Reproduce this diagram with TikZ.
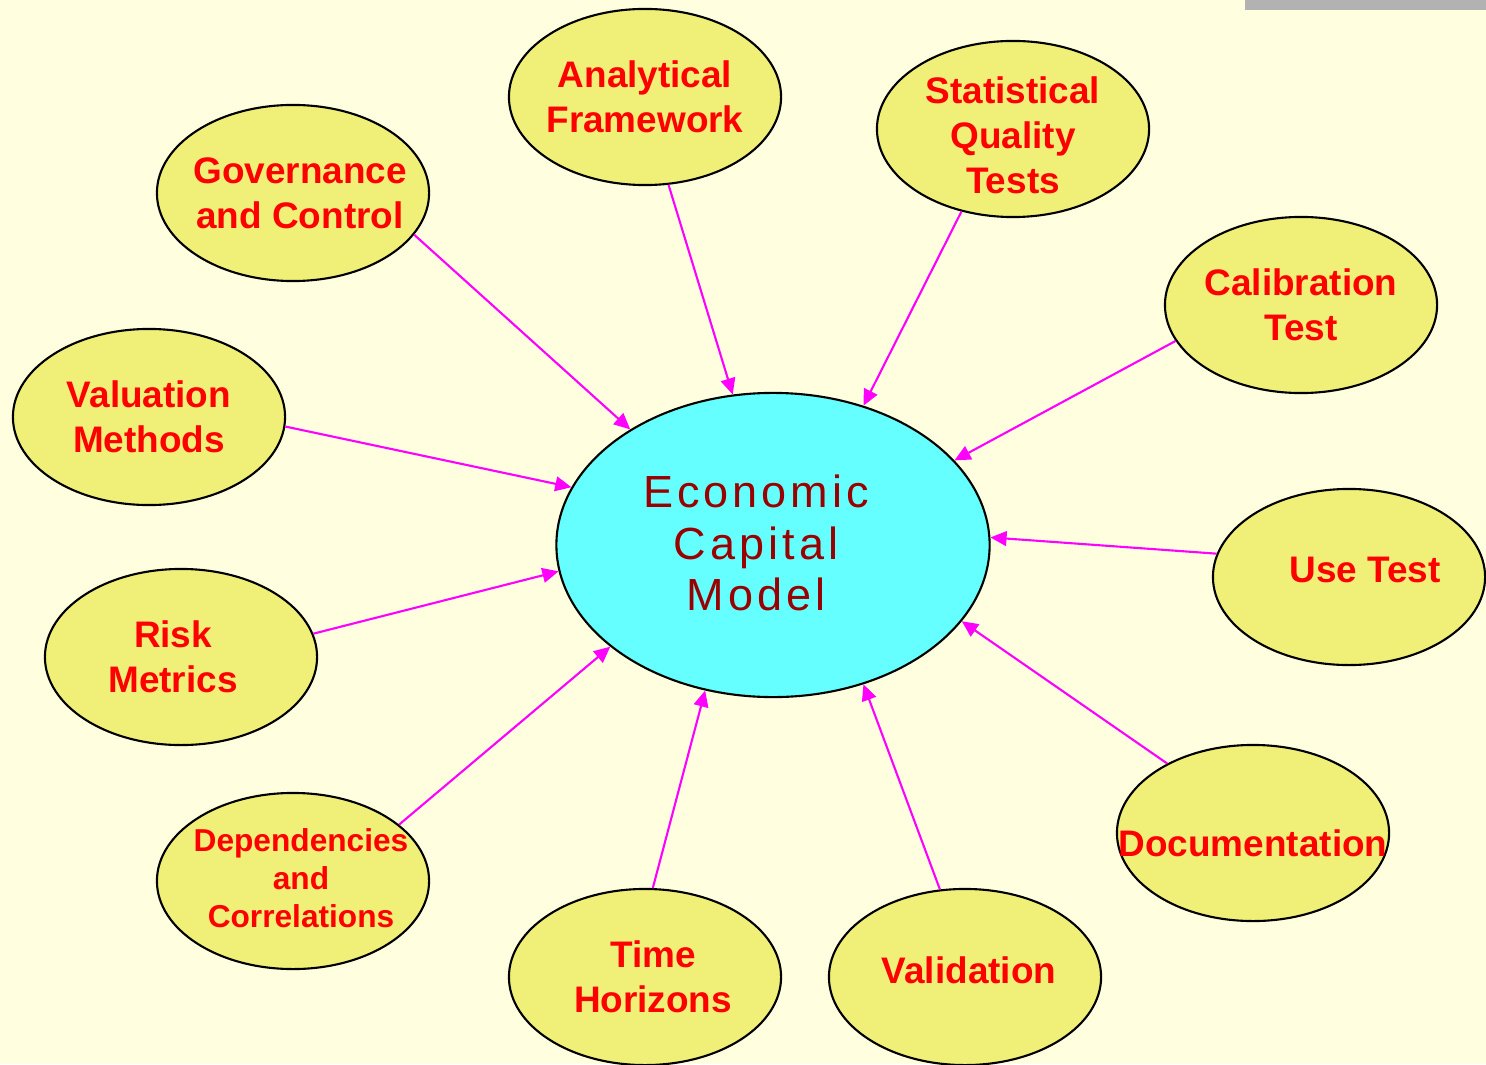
\documentclass[tikz,border=0pt]{standalone}
\usepackage{fontspec}
\setmainfont{Liberation Sans}
\newfontfamily\coreFont[LetterSpace=9]{Liberation Sans}
\usetikzlibrary{shapes.geometric, arrows.meta}
\definecolor{paper}{HTML}{FFFFE0}
\definecolor{ideaYellow}{HTML}{F0F078}
\definecolor{coreCyan}{HTML}{66FFFF}
\definecolor{coreRed}{HTML}{990000}
\definecolor{linkMagenta}{HTML}{FF00FF}
\definecolor{barGray}{HTML}{B2B2B2}

\begin{document}
\begin{tikzpicture}[x=0.01cm, y=-0.01cm]
	\tikzstyle{Node} = [ %shared look of all ellipses
		ellipse,
		draw=black,
		line width=0.6pt
	]
	\tikzstyle{IdeaNode} = [
		Node,
		fill=ideaYellow,
		minimum width=2.72cm,
		minimum height=1.76cm
	]
	\tikzstyle{IdeaText} = [
		text=red,
		align=center,
		font=\fontsize{10.5}{12.8}\selectfont\bfseries
	]
	\tikzstyle{CoreNode} = [
		Node,
		fill=coreCyan,
		minimum width=4.33cm,
		minimum height=3.04cm
	]
	\tikzstyle{CoreText} = [
		text=coreRed,
		align=center,
		font=\coreFont\fontsize{12.8}{14.7}\selectfont
	]
	\tikzstyle{Link} = [
		-{Triangle[length=4.6pt, width=4.2pt]},
		draw=linkMagenta,
		line width=0.6pt
	]

	% page and corner bar
	\fill[paper] (0,0) rectangle (1486,1064);
	\useasboundingbox (0,0) rectangle (1486,1064);
	\fill[barGray] (1245,0) rectangle (1486,10);

	\node (ecm) [CoreNode, label={[CoreText, xshift=-0.17cm, yshift=0.02cm]center:Economic\\Capital\\Model}] at (773,545) {};

	\node (gov) [IdeaNode, label={[IdeaText, xshift=0.07cm]center:Governance\\and Control}] at (293,193) {};
	\node (ana) [IdeaNode, label={[IdeaText]center:Analytical\\Framework}] at (645,97) {};
	\node (stat) [IdeaNode, label={[IdeaText, yshift=-0.06cm]center:Statistical\\Quality\\Tests}] at (1013,129) {};
	\node (cal) [IdeaNode, label={[IdeaText]center:Calibration\\Test}] at (1301,305) {};
	\node (use) [IdeaNode, label={[IdeaText, xshift=0.16cm, yshift=0.07cm]center:Use Test}] at (1349,577) {};
	\node (doc) [IdeaNode, label={[IdeaText, yshift=-0.1cm]center:Documentation}] at (1253,833) {};
	\node (val) [IdeaNode, label={[IdeaText, xshift=0.04cm, yshift=0.07cm]center:Validation}] at (965,977) {};
	\node (time) [IdeaNode, label={[IdeaText, xshift=0.08cm]center:Time\\Horizons}] at (645,977) {};
	\node (dep) [IdeaNode, label={[IdeaText, xshift=0.08cm, yshift=0.03cm, font=\fontsize{9}{10.8}\selectfont\bfseries]center:Dependencies\\and\\Correlations}] at (293,881) {};
	\node (risk) [IdeaNode, label={[IdeaText, xshift=-0.08cm]center:Risk\\Metrics}] at (181,657) {};
	\node (meth) [IdeaNode, label={[IdeaText]center:Valuation\\Methods}] at (149,417) {};

	\draw[Link] (gov.-19) -- (ecm.141);
	\draw[Link] (ana.-75) -- (ecm.105);
	\draw[Link] (stat.-122) -- (ecm.57);
	\draw[Link] (cal.-164) -- (ecm.25);
	\draw[Link] (use.170) -- (ecm.2);
	\draw[Link] (doc.141) -- (ecm.-22);
	\draw[Link] (val.106) -- (ecm.-57);
	\draw[Link] (time.85) -- (ecm.-115);
	\draw[Link] (dep.28) -- (ecm.-148);
	\draw[Link] (risk.10) -- (ecm.-173);
	\draw[Link] (meth.-4) -- (ecm.164);
\end{tikzpicture}
\end{document}
